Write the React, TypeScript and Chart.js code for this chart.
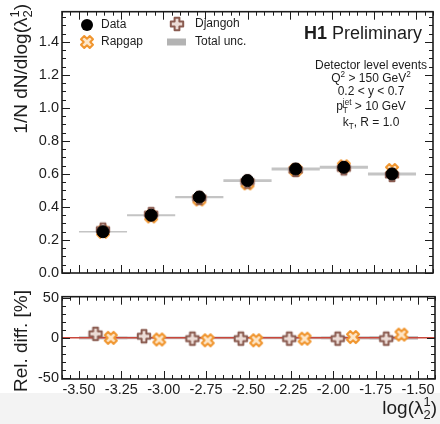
import { useEffect, useRef } from "react";
import { Chart, registerables } from "chart.js";

Chart.register(...registerables);

const FONT = "'Liberation Sans', Arial, Helvetica, sans-serif";

// ---- data ----
const binEdges = [-3.5, -3.2143, -2.9286, -2.6429, -2.3571, -2.0714, -1.7857, -1.5];
const binCenters = [-3.3571, -3.0714, -2.7857, -2.5, -2.2143, -1.9286, -1.6429];
const dataValues = [0.25, 0.35, 0.46, 0.56, 0.63, 0.64, 0.6];
const dataTotalUnc = [0.005, 0.006, 0.007, 0.008, 0.009, 0.009, 0.009];
const rapgapValues = [0.25, 0.343, 0.446, 0.543, 0.624, 0.646, 0.624];
const djangohValues = [0.2625, 0.357, 0.455, 0.554, 0.624, 0.634, 0.594];
const rapgapRelDiff = [0, -2, -3, -3, -1, 1, 4];
const djangohRelDiff = [5, 2, -1, -1, -1, -1, -1];
const relTotalUnc = [2.0, 1.8, 1.8, 1.7, 1.8, 1.9, 2.2];

const xTicks = [-3.5, -3.25, -3.0, -2.75, -2.5, -2.25, -2.0, -1.75, -1.5];
const upperYTicks = [0, 0.2, 0.4, 0.6, 0.8, 1.0, 1.2, 1.4];
const lowerYTicks = [-50, 0, 50];

const X_MIN = -3.6;
const X_MAX = -1.4;
const MC_OFFSET = 0.045;

// ---- styles ----
const RAPGAP = "#f0952e";
const DJANGOH = "#8a5b50";
const RED = "#c9473b";
const GREY = "#c4c4c4";
const INK = "#1c1c1c";

type Part = { t: string; sup?: string; sub?: string; bold?: boolean };

function drawRich(
  ctx: CanvasRenderingContext2D,
  parts: Part[],
  x: number,
  y: number,
  size: number,
  align: "left" | "center" | "right"
) {
  const small = size * 0.68;
  const big = (b?: boolean) => `${b ? "bold " : ""}${size}px ${FONT}`;
  const sm = `${small}px ${FONT}`;
  const widths = parts.map((p) => {
    ctx.font = big(p.bold);
    let w = ctx.measureText(p.t).width;
    if (p.sup || p.sub) {
      ctx.font = sm;
      w += Math.max(p.sup ? ctx.measureText(p.sup).width : 0, p.sub ? ctx.measureText(p.sub).width : 0);
    }
    return w;
  });
  const total = widths.reduce((a, b) => a + b, 0);
  let cx = align === "left" ? x : align === "center" ? x - total / 2 : x - total;
  ctx.textAlign = "left";
  ctx.textBaseline = "alphabetic";
  parts.forEach((p) => {
    ctx.font = big(p.bold);
    ctx.fillText(p.t, cx, y);
    cx += ctx.measureText(p.t).width;
    if (p.sup || p.sub) {
      ctx.font = sm;
      let w = 0;
      if (p.sup) {
        ctx.fillText(p.sup, cx, y - size * 0.42);
        w = Math.max(w, ctx.measureText(p.sup).width);
      }
      if (p.sub) {
        ctx.fillText(p.sub, cx, y + size * 0.28);
        w = Math.max(w, ctx.measureText(p.sub).width);
      }
      cx += w;
    }
  });
}

function makeCross(rotated: boolean, stroke: string, fill: string, a: number, L: number) {
  const size = 18;
  const c = document.createElement("canvas");
  c.width = size;
  c.height = size;
  const ctx = c.getContext("2d")!;
  ctx.translate(size / 2, size / 2);
  if (rotated) ctx.rotate(Math.PI / 4);
  ctx.beginPath();
  ctx.moveTo(-a, -L);
  ctx.lineTo(a, -L);
  ctx.lineTo(a, -a);
  ctx.lineTo(L, -a);
  ctx.lineTo(L, a);
  ctx.lineTo(a, a);
  ctx.lineTo(a, L);
  ctx.lineTo(-a, L);
  ctx.lineTo(-a, a);
  ctx.lineTo(-L, a);
  ctx.lineTo(-L, -a);
  ctx.lineTo(-a, -a);
  ctx.closePath();
  ctx.fillStyle = fill;
  ctx.fill();
  ctx.lineWidth = 2;
  ctx.lineJoin = "round";
  ctx.strokeStyle = stroke;
  ctx.stroke();
  return c;
}

function drawFrame(chart: any, xMinorStep: number, yMajor: number[], yMinorStep: number) {
  const { ctx, chartArea: a, scales } = chart;
  const x = scales.x;
  const y = scales.y;
  ctx.save();
  ctx.strokeStyle = INK;
  ctx.lineWidth = 1;
  const majLen = 8;
  const minLen = 4;
  ctx.beginPath();
  // x ticks
  const xi0 = Math.ceil(X_MIN / xMinorStep - 1e-6);
  const xi1 = Math.floor(X_MAX / xMinorStep + 1e-6);
  for (let i = xi0; i <= xi1; i++) {
    const v = i * xMinorStep;
    const isMajor = xTicks.some((t) => Math.abs(t - v) < 1e-6);
    const len = isMajor ? majLen : minLen;
    const px = Math.round(x.getPixelForValue(v)) + 0.5;
    ctx.moveTo(px, a.bottom);
    ctx.lineTo(px, a.bottom - len);
    ctx.moveTo(px, a.top);
    ctx.lineTo(px, a.top + len);
  }
  // y ticks
  const yi0 = Math.ceil(y.min / yMinorStep - 1e-6);
  const yi1 = Math.floor(y.max / yMinorStep + 1e-6);
  for (let i = yi0; i <= yi1; i++) {
    const v = i * yMinorStep;
    const isMajor = yMajor.some((t) => Math.abs(t - v) < 1e-6);
    const len = isMajor ? majLen : minLen;
    const py = Math.round(y.getPixelForValue(v)) + 0.5;
    ctx.moveTo(a.left, py);
    ctx.lineTo(a.left + len, py);
    ctx.moveTo(a.right, py);
    ctx.lineTo(a.right - len, py);
  }
  ctx.stroke();
  ctx.lineWidth = 1.6;
  ctx.strokeRect(a.left, a.top, a.right - a.left, a.bottom - a.top);
  ctx.restore();
}

function steppedBand(values: number[], unc: number[], sign: number) {
  const pts = values.map((v, i) => ({ x: binEdges[i], y: v + sign * unc[i] }));
  const last = values.length - 1;
  pts.push({ x: binEdges[last + 1], y: values[last] + sign * unc[last] });
  return pts;
}

export default function App() {
  const topRef = useRef<HTMLCanvasElement>(null);
  const botRef = useRef<HTMLCanvasElement>(null);

  useEffect(() => {
    const rapgapImg = makeCross(true, RAPGAP, "#fde6c8", 2.3, 6.2);
    const djangohImg = makeCross(false, DJANGOH, "#ecdcd6", 2.4, 6.2);

    const upperDecor = {
      id: "upperDecor",
      afterDraw(chart: any) {
        drawFrame(chart, 0.05, upperYTicks, 0.05);
        const ctx = chart.ctx as CanvasRenderingContext2D;
        ctx.save();
        ctx.fillStyle = INK;
        // y title
        ctx.save();
        ctx.translate(27, 4);
        ctx.rotate(-Math.PI / 2);
        drawRich(ctx, [{ t: "1/N dN/dlog(λ", sup: "1", sub: "2" }, { t: ")" }], 0, 0, 19, "right");
        ctx.restore();
        // H1 Preliminary
        drawRich(ctx, [{ t: "H1", bold: true }, { t: " Preliminary" }], 422, 38.5, 18, "right");
        // annotation
        const cx = 371;
        drawRich(ctx, [{ t: "Detector level events" }], cx, 69, 12, "center");
        drawRich(ctx, [{ t: "Q", sup: "2" }, { t: " > 150 GeV", sup: "2" }], cx, 82, 12, "center");
        drawRich(ctx, [{ t: "0.2 < y < 0.7" }], cx, 95, 12, "center");
        drawRich(ctx, [{ t: "p", sup: "jet", sub: "T" }, { t: " > 10 GeV" }], cx, 110, 12, "center");
        drawRich(ctx, [{ t: "k", sub: "T" }, { t: ", R = 1.0" }], cx, 125.5, 12, "center");
        // legend
        const ds = chart.data.datasets;
        ctx.beginPath();
        ctx.arc(87, 25, 6, 0, Math.PI * 2);
        ctx.fillStyle = "#000";
        ctx.fill();
        ctx.drawImage(rapgapImg, 87 - 9, 42 - 9);
        ctx.drawImage(djangohImg, 177 - 9, 24 - 9);
        ctx.fillStyle = "#b3b3b3";
        ctx.fillRect(167, 38.5, 19, 7);
        ctx.fillStyle = INK;
        ctx.font = `12px ${FONT}`;
        ctx.textBaseline = "middle";
        ctx.textAlign = "left";
        ctx.fillText(ds[0].label, 101, 25);
        ctx.fillText(ds[2].label, 101, 42);
        ctx.fillText(ds[1].label, 195, 24);
        ctx.fillText(ds[3].label, 195, 42);
        ctx.restore();
      },
    };

    const lowerDecor = {
      id: "lowerDecor",
      afterDraw(chart: any) {
        drawFrame(chart, 0.05, lowerYTicks, 10);
        const ctx = chart.ctx as CanvasRenderingContext2D;
        ctx.save();
        ctx.fillStyle = INK;
        ctx.save();
        ctx.translate(27, 5);
        ctx.rotate(-Math.PI / 2);
        drawRich(ctx, [{ t: "Rel. diff. [%]" }], 0, 0, 19, "right");
        ctx.restore();
        drawRich(ctx, [{ t: "log(λ", sup: "1", sub: "2" }, { t: ")" }], 437, 129, 19, "right");
        ctx.restore();
      },
    };

    const tickFont = { family: FONT, size: 14.5 };

    const c1 = new Chart(topRef.current!, {
      type: "scatter",
      data: {
        datasets: [
          {
            label: "Data",
            data: binCenters.map((x, i) => ({ x, y: dataValues[i] })),
            pointStyle: "circle",
            pointRadius: 6,
            backgroundColor: "#000",
            borderColor: "#000",
            showLine: false,
          },
          {
            label: "Djangoh",
            data: binCenters.map((x, i) => ({ x, y: djangohValues[i] })),
            pointStyle: djangohImg,
            showLine: false,
          },
          {
            label: "Rapgap",
            data: binCenters.map((x, i) => ({ x, y: rapgapValues[i] })),
            pointStyle: rapgapImg,
            showLine: false,
          },
          {
            label: "Total unc.",
            data: steppedBand(dataValues, dataTotalUnc, 1),
            showLine: true,
            stepped: true,
            borderWidth: 0,
            pointRadius: 0,
            backgroundColor: GREY,
            fill: "+1",
          },
          {
            label: "unc-low",
            data: steppedBand(dataValues, dataTotalUnc, -1),
            showLine: true,
            stepped: true,
            borderWidth: 0,
            pointRadius: 0,
            backgroundColor: GREY,
            fill: false,
          },
        ],
      },
      options: {
        animation: false,
        responsive: false,
        events: [],
        layout: { padding: { top: 2, right: 3, left: 0, bottom: 12 } },
        plugins: { legend: { display: false }, tooltip: { enabled: false } },
        scales: {
          x: { type: "linear", display: false, min: X_MIN, max: X_MAX },
          y: {
            type: "linear",
            min: 0,
            max: 1.583,
            afterFit: (s: any) => {
              s.width = 62;
            },
            afterBuildTicks: (s: any) => {
              s.ticks = upperYTicks.map((v) => ({ value: v }));
            },
            grid: { display: false, drawTicks: false },
            border: { display: false },
            ticks: {
              font: tickFont,
              color: INK,
              padding: 3,
              callback: (v: any) => Number(v).toFixed(1),
            },
          },
        },
      },
      plugins: [upperDecor],
    } as any);

    const c2 = new Chart(botRef.current!, {
      type: "scatter",
      data: {
        datasets: [
          {
            label: "Djangoh",
            data: binCenters.map((x, i) => ({ x: x - MC_OFFSET, y: djangohRelDiff[i] })),
            pointStyle: djangohImg,
            showLine: false,
          },
          {
            label: "Rapgap",
            data: binCenters.map((x, i) => ({ x: x + MC_OFFSET, y: rapgapRelDiff[i] })),
            pointStyle: rapgapImg,
            showLine: false,
          },
          {
            label: "zero",
            data: [
              { x: X_MIN, y: 0 },
              { x: X_MAX, y: 0 },
            ],
            showLine: true,
            borderColor: RED,
            borderWidth: 1.5,
            pointRadius: 0,
          },
          {
            label: "Total unc.",
            data: steppedBand(binCenters.map(() => 0), relTotalUnc, 1),
            showLine: true,
            stepped: true,
            borderWidth: 0,
            pointRadius: 0,
            backgroundColor: "rgba(150,150,150,0.55)",
            fill: "+1",
          },
          {
            label: "unc-low",
            data: steppedBand(binCenters.map(() => 0), relTotalUnc, -1),
            showLine: true,
            stepped: true,
            borderWidth: 0,
            pointRadius: 0,
            fill: false,
          },
        ],
      },
      options: {
        animation: false,
        responsive: false,
        events: [],
        layout: { padding: { top: 7, right: 3, left: 0, bottom: 0 } },
        plugins: { legend: { display: false }, tooltip: { enabled: false } },
        scales: {
          x: {
            type: "linear",
            min: X_MIN,
            max: X_MAX,
            afterFit: (s: any) => {
              s.height = 45;
            },
            afterBuildTicks: (s: any) => {
              s.ticks = xTicks.map((v) => ({ value: v }));
            },
            grid: { display: false, drawTicks: false },
            border: { display: false },
            ticks: {
              font: tickFont,
              color: INK,
              padding: 2,
              autoSkip: false,
              maxRotation: 0,
              callback: (v: any) => Number(v).toFixed(2),
            },
          },
          y: {
            type: "linear",
            min: -51,
            max: 51,
            afterFit: (s: any) => {
              s.width = 62;
            },
            afterBuildTicks: (s: any) => {
              s.ticks = lowerYTicks.map((v) => ({ value: v }));
            },
            grid: { display: false, drawTicks: false },
            border: { display: false },
            ticks: {
              font: tickFont,
              color: INK,
              padding: 3,
              callback: (v: any) => String(v),
            },
          },
        },
      },
      plugins: [lowerDecor],
    } as any);

    return () => {
      c1.destroy();
      c2.destroy();
    };
  }, []);

  return (
    <div style={{ position: "absolute", left: 0, top: 0, width: 440, height: 424, background: "#fff", overflow: "hidden" }}>
      <div style={{ position: "absolute", left: 0, top: 393, width: 440, height: 31, background: "#f3f3f3" }} />
      <canvas ref={topRef} width={440} height={285} style={{ position: "absolute", left: 0, top: 0 }} />
      <canvas ref={botRef} width={440} height={139} style={{ position: "absolute", left: 0, top: 285 }} />
    </div>
  );
}
